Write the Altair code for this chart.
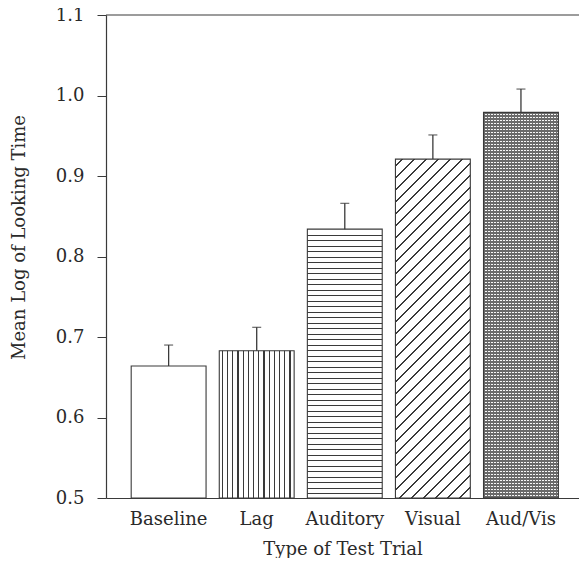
import altair as alt
import pandas as pd

categories = ["Baseline", "Lag", "Auditory", "Visual", "Aud/Vis"]
means = [0.664, 0.683, 0.834, 0.921, 0.979]
upper = [0.690, 0.712, 0.866, 0.951, 1.008]
y_ticks = [0.5, 0.6, 0.7, 0.8, 0.9, 1.0, 1.1]

df = pd.DataFrame({"cat": categories, "mean": means, "upper": upper})

W, H = 473, 483
Y0, Y1 = 0.5, 1.1
PI, PO, ALIGN = 0.15, 0.26, 0.55
step = W / (len(categories) - PI + 2 * PO)
bw = step * (1 - PI)

LINE = "#3a3a3a"
TEXT = "#2a2a2a"
FONT = "DejaVu Serif"
FS = 18


def bar_h(v):
    return (v - Y0) / (Y1 - Y0) * H


def stripes(length, period, lw, dark, light, start=0.0):
    stops = [{"offset": 0, "color": light}]
    pos = start
    while pos < length:
        a = round(max(pos, 0) / length, 5)
        b = round(min(pos + lw, length) / length, 5)
        stops += [
            {"offset": a, "color": light},
            {"offset": a, "color": dark},
            {"offset": b, "color": dark},
            {"offset": b, "color": light},
        ]
        pos += period
    stops.append({"offset": 1, "color": light})
    return stops


mean_of = dict(zip(categories, means))

# Lag: vertical lines
g_lag = {"gradient": "linear", "x1": 0, "y1": 0, "x2": 1, "y2": 0,
         "stops": stripes(bw, 5.2, 1.1, LINE, "white", start=2.6)}
# Auditory: horizontal lines
h_aud = bar_h(mean_of["Auditory"])
g_aud = {"gradient": "linear", "x1": 0, "y1": 0, "x2": 0, "y2": 1,
         "stops": stripes(h_aud, 5.5, 1.2, LINE, "white", start=5.5)}
# Visual: diagonal "/" lines
h_vis = bar_h(mean_of["Visual"])
lam = (bw + h_vis) / (bw ** 2 + h_vis ** 2)
g_vis = {"gradient": "linear", "x1": 0, "y1": 0, "x2": round(lam * bw, 6), "y2": round(lam * h_vis, 6),
         "stops": stripes(bw + h_vis, 12.0, 1.7, LINE, "white", start=6.0)}
# Aud/Vis: fine cross-hatch (two layers)
h_av = bar_h(mean_of["Aud/Vis"])
g_av1 = {"gradient": "linear", "x1": 0, "y1": 0, "x2": 0, "y2": 1,
         "stops": stripes(h_av, 3.0, 1.5, "#6a6a6a", "#f6f6f6")}
g_av2 = {"gradient": "linear", "x1": 0, "y1": 0, "x2": 1, "y2": 0,
         "stops": stripes(bw, 3.0, 1.5, "#6a6a6a", "rgba(255,255,255,0)")}

base = alt.Chart(df)

x_enc = alt.X(
    "cat:N",
    sort=categories,
    scale=alt.Scale(domain=categories, paddingInner=PI, paddingOuter=PO, align=ALIGN),
    axis=alt.Axis(
        title="Type of Test Trial",
        labelAngle=0,
        ticks=False,
        domainColor=LINE,
        domainWidth=1.2,
        labelFont=FONT,
        labelFontSize=FS,
        labelColor=TEXT,
        labelPadding=12,
        titleFont=FONT,
        titleFontSize=FS,
        titleFontWeight="normal",
        titleColor=TEXT,
        titlePadding=12,
    ),
)
y_scale = alt.Scale(domain=[Y0, Y1], nice=False, zero=False)
y_enc = alt.Y(
    "mean:Q",
    scale=y_scale,
    axis=alt.Axis(
        values=y_ticks,
        format=".1f",
        title="Mean Log of Looking Time",
        grid=False,
        tickSize=9,
        tickColor=LINE,
        domainColor=LINE,
        domainWidth=1.2,
        labelFont=FONT,
        labelFontSize=FS,
        labelColor=TEXT,
        labelPadding=13,
        titleFont=FONT,
        titleFontSize=FS,
        titleFontWeight="normal",
        titleColor=TEXT,
        titleX=-87,
        titleY=222,
        titleAngle=-90,
        titleAlign="center",
        titleBaseline="middle",
    ),
)


def bar_layer(cat, fill, stroke=True):
    kw = dict(fill=fill)
    if stroke:
        kw.update(stroke=LINE, strokeWidth=1.1)
    else:
        kw.update(strokeWidth=0)
    return base.transform_filter(alt.datum.cat == cat).mark_bar(**kw).encode(
        x=x_enc, y=y_enc, y2=alt.datum(Y0)
    )


layers = [
    bar_layer("Baseline", "white"),
    bar_layer("Lag", g_lag),
    bar_layer("Auditory", g_aud),
    bar_layer("Visual", g_vis),
    bar_layer("Aud/Vis", g_av1, stroke=False),
    bar_layer("Aud/Vis", g_av2),
]

err = base.mark_rule(color=LINE, strokeWidth=1.3).encode(
    x=x_enc, y=alt.Y("mean:Q", scale=y_scale), y2="upper:Q"
)
cap = base.mark_tick(color=LINE, size=9, thickness=1.3).encode(
    x=x_enc, y=alt.Y("upper:Q", scale=y_scale)
)
top = alt.Chart(pd.DataFrame({"v": [Y1]})).mark_rule(color=LINE, strokeWidth=1.2).encode(
    y=alt.Y("v:Q", scale=y_scale)
)

chart = alt.layer(*layers, err, cap, top).properties(
    width=W,
    height=H,
    padding={"left": 98, "top": 7, "right": 0, "bottom": 60},
    autosize=alt.AutoSizeParams(type="none"),
).configure_view(stroke=None)

chart.save("out.html", embed_options={"renderer": "svg", "actions": False})
